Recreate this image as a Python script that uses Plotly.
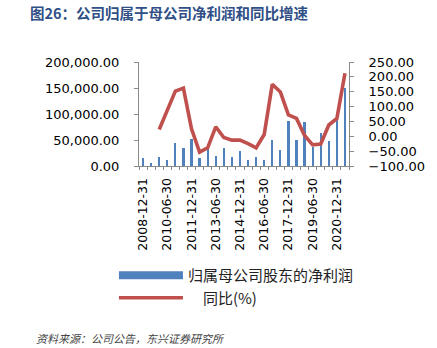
import plotly.graph_objects as go

# ---- data ----
categories = [
    "2008-12-31", "2009-06-30", "2009-12-31", "2010-06-30", "2010-12-31",
    "2011-06-30", "2011-12-31", "2012-06-30", "2012-12-31", "2013-06-30",
    "2013-12-31", "2014-06-30", "2014-12-31", "2015-06-30", "2015-12-31",
    "2016-06-30", "2016-12-31", "2017-06-30", "2017-12-31", "2018-06-30",
    "2018-12-31", "2019-06-30", "2019-12-31", "2020-06-30", "2020-12-31",
    "2021-06-30",
]
net_profit = [
    15000, 6200, 17700, 12500, 43300, 33700, 52300, 15000, 33000, 19600,
    33700, 17700, 28800, 12500, 17700, 12500, 50400, 31100, 87500, 50400,
    85000, 36200, 63800, 47700, 98000, 150000,
]
yoy_pct = [
    None, None, 23, 88, 152, 162, 25, -53.5, -38.8, 32,
    -4, -13, -13, -24.5, -38.8, 6, 175, 149, 72, 60,
    2.7, -29, -26, 38, 60, 212,
]
tick_labels = [c if i % 3 == 0 else "" for i, c in enumerate(categories)]

series_bar_name = "归属母公司股东的净利润"
series_line_name = "同比(%)"
title_text = "图26：公司归属于母公司净利润和同比增速"
source_text = "资料来源：公司公告，东兴证券研究所"

BLUE = "#4F81BD"
RED = "#C0504D"
AXIS = "#898989"
XTICKFONT = dict(family="DejaVu Sans", size=12.5, color="#000000")
YTICKFONT = dict(family="DejaVu Sans", size=13, color="#000000")
CJK = "Noto Sans CJK SC"

W, H = 437, 348
L, R, T, B = 139, 80, 62, 182
pw = W - L - R
ph = H - T - B


def px_to_paper_x(px):
    return (px - L) / pw


def px_to_paper_y(py):
    return (H - B - py) / ph


fig = go.Figure()

fig.add_trace(go.Bar(
    x=categories, y=net_profit, name=series_bar_name,
    marker=dict(color=BLUE, line=dict(width=0)),
    width=0.28, showlegend=False, yaxis="y",
))
# legend entry for the bars (wide flat swatch like the reference)
fig.add_trace(go.Scatter(
    x=[None], y=[None], mode="lines", name=series_bar_name,
    line=dict(color=BLUE, width=8), yaxis="y",
))
fig.add_trace(go.Scatter(
    x=categories, y=yoy_pct, name="\u3000" + series_line_name,
    mode="lines", line=dict(color=RED, width=3.6),
    yaxis="y2", connectgaps=False,
))

fig.update_layout(
    width=W, height=H,
    margin=dict(l=L, r=R, t=T, b=B, pad=0),
    paper_bgcolor="white", plot_bgcolor="white",
    bargap=0,
    title=dict(
        text="<b>" + title_text + "</b>",
        font=dict(family=CJK, size=14.5, color="#2F4F86"),
        xref="container", yref="container",
        x=30 / W, xanchor="left", y=1 - 14 / H, yanchor="middle",
    ),
    xaxis=dict(
        type="category", range=[-0.5, len(categories) - 0.5],
        tickmode="array", tickvals=categories, ticktext=tick_labels,
        tickangle=-90, tickson="boundaries",
        ticks="outside", ticklen=3, tickcolor=AXIS, tickwidth=1,
        showline=True, linecolor=AXIS, linewidth=1,
        showgrid=False, zeroline=False,
        tickfont=XTICKFONT, ticklabelstandoff=6,
    ),
    yaxis=dict(
        range=[0, 200000], dtick=50000, tickformat=",.2f",
        ticks="outside", ticklen=4, tickcolor=AXIS,
        showline=True, linecolor=AXIS, linewidth=1,
        showgrid=False, zeroline=False,
        tickfont=YTICKFONT, ticklabelstandoff=12,
    ),
    yaxis2=dict(
        range=[-100, 250], dtick=50, tickformat=".2f",
        overlaying="y", side="right",
        ticks="outside", ticklen=4, tickcolor=AXIS,
        showline=True, linecolor=AXIS, linewidth=1,
        showgrid=False, zeroline=False,
        tickfont=YTICKFONT, ticklabelstandoff=12,
    ),
    legend=dict(
        x=px_to_paper_x(113), xanchor="left",
        y=px_to_paper_y(259), yanchor="top",
        bgcolor="rgba(0,0,0,0)", borderwidth=0,
        font=dict(family=CJK, size=15, color="#222222"),
        itemwidth=64, tracegroupgap=0,
    ),
    annotations=[dict(
        text="<i>" + source_text + "</i>",
        xref="paper", yref="paper",
        x=px_to_paper_x(30), xanchor="left",
        y=px_to_paper_y(338), yanchor="middle",
        showarrow=False,
        font=dict(family=CJK, size=11, color="#444444"),
    )],
)

fig.write_html("out.html")
